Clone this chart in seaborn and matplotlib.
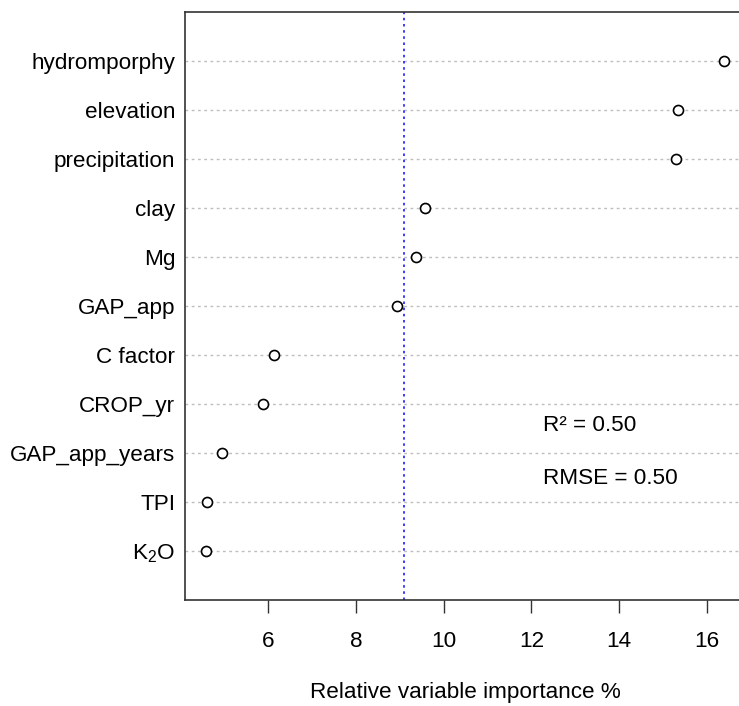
import matplotlib
matplotlib.use("Agg")
import matplotlib.pyplot as plt
import seaborn as sns
import pandas as pd

# Relative variable importance (%) of the model predictors, top to bottom
variables = ["hydromporphy", "elevation", "precipitation", "clay", "Mg",
             "GAP_app", "C factor", "CROP_yr", "GAP_app_years", "TPI",
             "K$_2$O"]
importance = [16.40, 15.34, 15.30, 9.57, 9.36, 8.94, 6.12, 5.88, 4.93, 4.61, 4.57]
mean_importance = 9.10
x_ticks = [6, 8, 10, 12, 14, 16]
r2_text = "R² = 0.50"
rmse_text = "RMSE = 0.50"

sns.set_theme(style="white")
plt.rcParams["font.family"] = ["Liberation Sans", "DejaVu Sans"]
plt.rcParams["mathtext.fontset"] = "custom"
plt.rcParams["mathtext.rm"] = "Liberation Sans"
plt.rcParams["mathtext.it"] = "Liberation Sans:italic"

FS = 16.2
n = len(variables)
df = pd.DataFrame({
    "variable": variables,
    "importance": importance,
    "pos": list(range(n, 0, -1)),
})

W, H = 739, 706
fig = plt.figure(figsize=(W / 100, H / 100), dpi=100)
ax = fig.add_axes([185 / W, (H - 600) / H, (745 - 185) / W, (600 - 12) / H])

# dotted guide line for each variable
for p in df["pos"]:
    ax.axhline(p, color="#BEBEBE", lw=1.0, ls=(0, (2, 2.5)), zorder=1)

# mean importance reference
ax.axvline(mean_importance, color="#1A1AFF", lw=1.2, ls=(0, (1.5, 2.2)), zorder=2)

sns.scatterplot(data=df, x="importance", y="pos", ax=ax, marker="o",
                s=52, facecolor="white", edgecolor="black", linewidth=1.2,
                zorder=3, legend=False)

lo, hi = min(importance), max(importance)
pad = 0.04 * (hi - lo)
ax.set_xlim(lo - pad, hi + pad)
ax.set_ylim(0, n + 1)

ax.set_yticks(df["pos"])
ax.set_yticklabels(df["variable"], fontsize=FS, color="black")
ax.set_xticks(x_ticks)
ax.set_xticklabels([str(t) for t in x_ticks], fontsize=FS, color="black")
ax.tick_params(axis="y", length=0, pad=7)
ax.tick_params(axis="x", direction="out", length=9, width=1.0, color="#333333",
               pad=13, bottom=True)
ax.set_xlabel("Relative variable importance %", fontsize=FS, color="black",
              labelpad=22)
ax.set_ylabel("")

for side in ["left", "top", "bottom", "right"]:
    ax.spines[side].set_visible(True)
    ax.spines[side].set_color("#333333")
    ax.spines[side].set_linewidth(1.2)

ax.text(12.26, 3.56, r2_text, fontsize=FS, va="center", ha="left", color="black")
ax.text(12.26, 2.47, rmse_text, fontsize=FS, va="center", ha="left", color="black")

fig.savefig("out.png", dpi=100, facecolor="white")
